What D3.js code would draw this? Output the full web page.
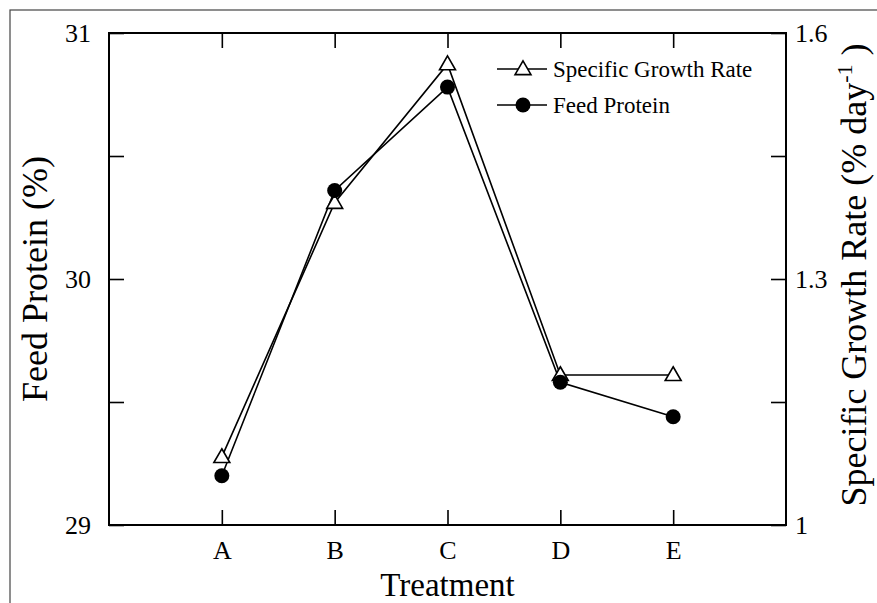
<!DOCTYPE html>
<html><head><meta charset="utf-8">
<script src="https://cdn.jsdelivr.net/npm/d3@7"></script>
<style>body{margin:0;background:#fff;} svg text{font-family:"Times New Roman","Liberation Serif","DejaVu Serif",serif !important;}</style>
</head><body><svg id="c" width="877" height="603"></svg>
<script>
const categories = ["A","B","C","D","E"];
const feedProtein = [29.2, 30.36, 30.78, 29.58, 29.44];
const growthRate = [1.083, 1.393, 1.562, 1.183, 1.183];
const leftTicks = [29, 29.5, 30, 30.5, 31];
const leftLabels = ["29","","30","","31"];
const rightTicks = [1, 1.15, 1.3, 1.45, 1.6];
const rightLabels = ["1","","1.3","","1.6"];

const FONT = '"Times New Roman","Liberation Serif","DejaVu Serif",serif';
const svg = d3.select("#c");
const L=109, R=786, T=33, B=525;
svg.append("rect").attr("x",10).attr("y",10).attr("width",900).attr("height",700)
  .attr("fill","none").attr("stroke","#444").attr("stroke-width",1.2);

const x = d3.scaleLinear().domain([0,6]).range([L,R]);
const yL = d3.scaleLinear().domain([29,31]).range([B,T]);
const yR = d3.scaleLinear().domain([1,1.6]).range([B,T]);
const xi = (d,i)=>x(i+1);

const g = svg.append("g");
g.append("rect").attr("x",L).attr("y",T).attr("width",R-L).attr("height",B-T)
  .attr("fill","none").attr("stroke","#000").attr("stroke-width",2);

const tl = 15;
const axL = d3.axisLeft(yL).tickValues(leftTicks).tickSize(-tl).tickPadding(18).tickFormat((d,i)=>leftLabels[i]);
const axR = d3.axisRight(yR).tickValues(rightTicks).tickSize(-tl).tickPadding(9).tickFormat((d,i)=>rightLabels[i]);
const axB = d3.axisBottom(x).tickValues([1,2,3,4,5]).tickSize(-tl).tickPadding(16).tickFormat(d=>categories[d-1]);
const axT = d3.axisTop(x).tickValues([1,2,3,4,5]).tickSize(-tl).tickFormat("");
function style(sel){
  sel.attr("font-family",FONT).attr("font-size",26);
  sel.select(".domain").remove();
  sel.selectAll(".tick line").attr("stroke","#000").attr("stroke-width",1.6);
  sel.selectAll(".tick text").attr("fill","#000");
}
g.append("g").attr("transform",`translate(${L},0)`).call(axL).call(style);
g.append("g").attr("transform",`translate(${R},0)`).call(axR).call(style);
g.append("g").attr("transform",`translate(0,${B})`).call(axB).call(style);
g.append("g").attr("transform",`translate(0,${T})`).call(axT).call(style);

svg.append("text").attr("x",x(3)).attr("y",595.5).attr("text-anchor","middle")
  .attr("font-family",FONT).attr("font-size",33).text("Treatment");
svg.append("text").attr("transform",`translate(47,${(T+B)/2}) rotate(-90)`).attr("text-anchor","middle")
  .attr("font-family",FONT).attr("font-size",36).text("Feed Protein (%)");
const rt = svg.append("text").attr("transform",`translate(866,${(T+B)/2 - 4}) rotate(-90)`).attr("text-anchor","middle")
  .attr("font-family",FONT).attr("font-size",36);
rt.append("tspan").text("Specific Growth Rate (% day");
rt.append("tspan").attr("dy",-14).attr("font-size",22).text("-1");
rt.append("tspan").attr("dy",14).text(" )");

const lineG = d3.line().x(xi).y(d=>yR(d));
const lineF = d3.line().x(xi).y(d=>yL(d));
svg.append("path").datum(growthRate).attr("d",lineG).attr("fill","none").attr("stroke","#000").attr("stroke-width",1.6);
svg.append("path").datum(feedProtein).attr("d",lineF).attr("fill","none").attr("stroke","#000").attr("stroke-width",1.6);

const tri = d3.symbol().type(d3.symbolTriangle).size(110);
svg.selectAll(".tri").data(growthRate).join("path").attr("class","tri")
  .attr("transform",(d,i)=>`translate(${xi(d,i)},${yR(d)+1})`).attr("d",tri)
  .attr("fill","#fff").attr("stroke","#000").attr("stroke-width",1.6);
svg.selectAll(".dot").data(feedProtein).join("circle").attr("class","dot")
  .attr("cx",xi).attr("cy",d=>yL(d)).attr("r",7.5).attr("fill","#000");

const lg = svg.append("g").attr("font-family",FONT);
const lx1=497, lx2=547, lmx=523;
const series=[{name:"Specific Growth Rate",type:"tri"},{name:"Feed Protein",type:"dot"}];
series.forEach((s,i)=>{
  const yy = 69 + i*36;
  lg.append("line").attr("x1",lx1).attr("x2",lx2).attr("y1",yy).attr("y2",yy).attr("stroke","#000").attr("stroke-width",1.6);
  if(s.type==="tri") lg.append("path").attr("transform",`translate(${lmx},${yy+1})`).attr("d",tri).attr("fill","#fff").attr("stroke","#000").attr("stroke-width",1.6);
  else lg.append("circle").attr("cx",lmx).attr("cy",yy).attr("r",7.5).attr("fill","#000");
  lg.append("text").attr("x",553).attr("y",yy+8).attr("font-size",23).text(s.name);
});
</script></body></html>
